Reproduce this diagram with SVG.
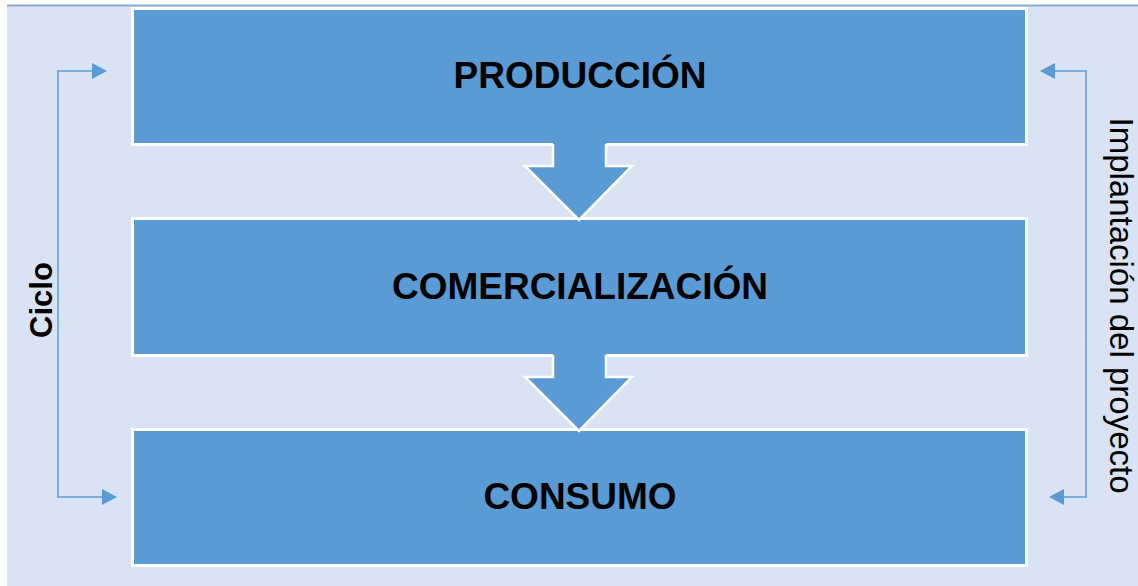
<svg xmlns="http://www.w3.org/2000/svg" width="1138" height="586" viewBox="0 0 1138 586">
<defs>
<style>
.box{fill:#5B9BD5;stroke:#FFFFFF;stroke-width:3}
.lbl{font-family:"Liberation Sans",Arial,sans-serif;font-weight:bold;font-size:37px;fill:#000;text-anchor:middle}
.conn{fill:none;stroke:#5B9BD5;stroke-width:1.5}
.side{font-family:"Liberation Sans",Arial,sans-serif;fill:#000;text-anchor:middle}
.barrow{fill:#5B9BD5}
.bout{fill:none;stroke:#FFFFFF;stroke-width:2.5;stroke-linejoin:miter}
</style>
<marker id="ah" viewBox="0 0 15 16" refX="0" refY="8" markerWidth="15" markerHeight="16" markerUnits="userSpaceOnUse" orient="auto-start-reverse">
<path d="M0,0 L15,8 L0,16 Z" fill="#5B9BD5"/>
</marker>
</defs>
<rect x="7" y="5" width="1131" height="581" fill="#DAE3F3"/>
<line x1="7" y1="5.5" x2="1138" y2="5.5" stroke="#8FAADC" stroke-width="2"/>
<g id="produccion">
<rect class="box" x="132.5" y="8.5" width="894" height="136"/>
<text class="lbl" x="580" y="87.5">PRODUCCIÓN</text>
</g>
<g id="comercializacion">
<rect class="box" x="132.5" y="218.5" width="894" height="137"/>
<text class="lbl" x="580" y="298.5">COMERCIALIZACIÓN</text>
</g>
<g id="consumo">
<rect class="box" x="132.5" y="429.5" width="894" height="136"/>
<text class="lbl" x="580" y="508.5">CONSUMO</text>
</g>
<g id="connectors">
<g id="flow1">
<polygon class="barrow" points="553,140 606,140 606,166 632,166 579,220 525,166 553,166"/>
<polyline class="bout" points="553,144 553,166 525,166 579,220 632,166 606,166 606,144"/>
</g>
<g id="flow2">
<polygon class="barrow" points="553,351 606,351 606,377 632,377 579,431 525,377 553,377"/>
<polyline class="bout" points="553,355 553,377 525,377 579,431 632,377 606,377 606,355"/>
</g>
<path class="conn" d="M92,71 L58,71 L58,497 L102,497" marker-start="url(#ah)" marker-end="url(#ah)"/>
<path class="conn" d="M1055,71 L1086,71 L1086,497 L1064,497" marker-start="url(#ah)" marker-end="url(#ah)"/>
</g>
<g id="ciclo">
<text class="side" font-weight="bold" font-size="31" transform="translate(52,300) rotate(-90)">Ciclo</text>
</g>
<g id="implantacion">
<text class="side" font-size="33" transform="translate(1110,305.5) rotate(90)">Implantación del proyecto</text>
</g>
</svg>
